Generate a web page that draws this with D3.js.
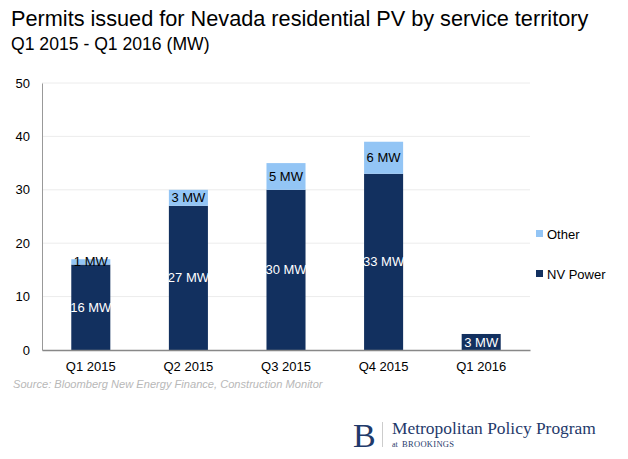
<!DOCTYPE html>
<html><head><meta charset="utf-8">
<script src="https://cdn.jsdelivr.net/npm/d3@7"></script>
<style>body{margin:0;background:#fff}svg{display:block}</style>
</head><body>
<script>
const categories = ["Q1 2015","Q2 2015","Q3 2015","Q4 2015","Q1 2016"];
const nvPower = [16,27,30,33,3];
const other = [1,3,5,6,0];
const yTicks = [0,10,20,30,40,50];
const seriesNames = ["NV Power","Other"];
const colors = {"NV Power":"#12305f","Other":"#93c5f5"};

const W=628,H=459;
const svg=d3.select("body").append("svg").attr("width",W).attr("height",H);
const font="Liberation Sans, Arial, sans-serif";
const m={left:42,right:98,top:83,bottom:109};
const x=d3.scaleBand().domain(categories).range([m.left,W-m.right]).paddingInner(0.6).paddingOuter(0.3);
const y=d3.scaleLinear().domain([0,50]).range([H-m.bottom,m.top]);

svg.append("text").attr("x",11).attr("y",26).attr("font-family",font).attr("font-size",21.7).attr("fill","#000").text("Permits issued for Nevada residential PV by service territory");
svg.append("text").attr("x",11).attr("y",50).attr("font-family",font).attr("font-size",17.6).attr("fill","#000").text("Q1 2015 - Q1 2016 (MW)");

// grid
svg.append("g").selectAll("line").data(yTicks.filter(d=>d>0)).join("line")
 .attr("x1",m.left).attr("x2",W-m.right).attr("y1",d=>y(d)).attr("y2",d=>y(d))
 .attr("stroke","#ececec").attr("stroke-width",1);

const data=categories.map((c,i)=>({cat:c,"NV Power":nvPower[i],"Other":other[i]}));
const stacked=d3.stack().keys(seriesNames)(data);
stacked.forEach(s=>{
  const g=svg.append("g");
  g.selectAll("rect").data(s.filter(d=>d[1]-d[0]>0)).join("rect")
   .attr("x",d=>x(d.data.cat)).attr("width",x.bandwidth())
   .attr("y",d=>y(d[1])).attr("height",d=>y(d[0])-y(d[1]))
   .attr("fill",colors[s.key]);
  g.selectAll("text").data(s.filter(d=>d[1]-d[0]>0)).join("text")
   .attr("x",d=>x(d.data.cat)+x.bandwidth()/2).attr("y",d=>(y(d[0])+y(d[1]))/2)
   .attr("dy","0.35em").attr("text-anchor","middle").attr("font-family",font).attr("font-size",13)
   .attr("fill",s.key==="NV Power"?"#fff":"#000")
   .text(d=>(d[1]-d[0])+" MW");
});

// axes
const ya=svg.append("g").attr("transform",`translate(${m.left},0)`).call(d3.axisLeft(y).tickValues(yTicks).tickSize(0).tickPadding(12));
ya.select(".domain").attr("stroke","#999");
ya.selectAll("text").attr("font-family",font).attr("font-size",13).attr("fill","#000");
const xa=svg.append("g").attr("transform",`translate(0,${y(0)})`).call(d3.axisBottom(x).tickSize(0).tickPadding(12));
xa.select(".domain").attr("stroke","#888").attr("stroke-width",1.5);
xa.selectAll("text").attr("font-family",font).attr("font-size",13).attr("fill","#000");

// legend
const leg=[{k:"Other",y:234},{k:"NV Power",y:274}];
leg.forEach(l=>{
  svg.append("rect").attr("x",536).attr("y",l.y-4).attr("width",7).attr("height",7).attr("fill",colors[l.k]);
  svg.append("text").attr("x",547).attr("y",l.y).attr("dy","0.35em").attr("font-family",font).attr("font-size",13).text(l.k);
});

svg.append("text").attr("x",13).attr("y",388).attr("font-family",font).attr("font-size",11.1).attr("font-style","italic").attr("fill","#b8b8b8")
 .text("Source: Bloomberg New Energy Finance, Construction Monitor");

// logo
const serif="Liberation Serif, Times New Roman, serif";
const navy="#1f3a6b";
svg.append("text").attr("x",353).attr("y",447).attr("font-family",serif).attr("font-size",34).attr("fill",navy).text("B");
svg.append("line").attr("x1",382.5).attr("x2",382.5).attr("y1",422).attr("y2",447).attr("stroke","#ccc");
svg.append("text").attr("x",392).attr("y",434).attr("font-family",serif).attr("font-size",17.4).attr("fill",navy).text("Metropolitan Policy Program");
svg.append("text").attr("x",392).attr("y",447).attr("font-family",serif).attr("font-size",8).attr("fill",navy).text("at");
svg.append("text").attr("x",402).attr("y",447).attr("font-family",serif).attr("font-size",8.5).attr("fill",navy).attr("letter-spacing",0.3).text("BROOKINGS");
</script>
</body></html>
